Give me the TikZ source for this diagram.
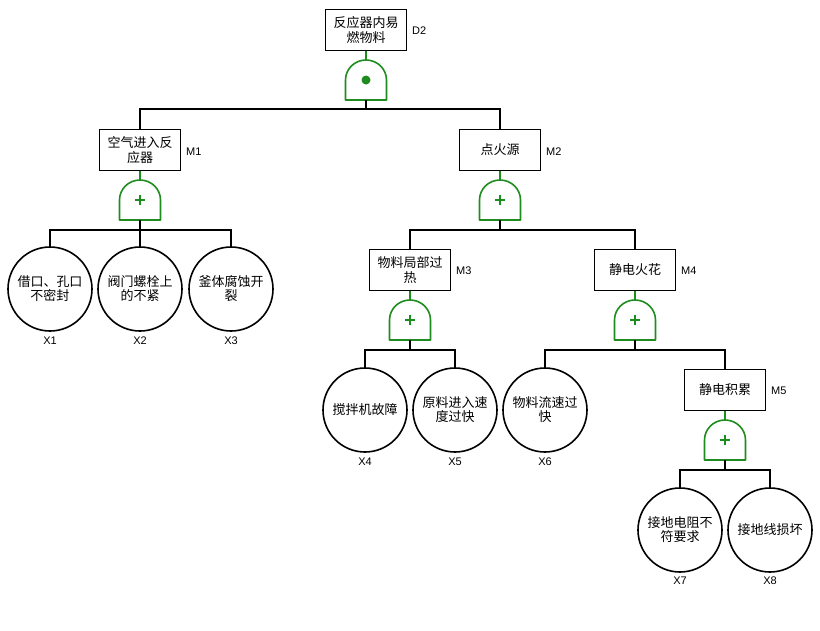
\documentclass[tikz,border=0pt]{standalone}
\usepackage{fontspec}
\setmainfont{Liberation Sans}
\newfontfamily\cjk{Noto Sans CJK SC}
\definecolor{gatecol}{RGB}{30,140,30}
\newcommand{\gateoutline}{%
  \draw[gatecol, line width=1.6pt, line join=round] (-20.5,40) -- (-20.5,20)
    arc[start angle=180, end angle=0, x radius=20.5pt, y radius=20pt] -- (20.5,40) -- cycle;
  \coordinate (-top) at (0,0);
  \coordinate (-bot) at (0,40);}
\tikzset{
  evt/.style={draw, line width=1.6pt, minimum width=81pt, minimum height=41pt,
    align=center, inner sep=1pt, font=\cjk\fontsize{13}{14.5}\selectfont},
  basic/.style={draw, circle, line width=1.6pt, minimum size=84pt, inner sep=0pt,
    align=center, font=\cjk\fontsize{13}{14}\selectfont},
  lbl/.style={font=\fontsize{11}{13}\selectfont, inner sep=0pt},
  conn/.style={draw, line width=1.6pt},
  gconn/.style={draw, gatecol, line width=1.6pt},
  andgate/.pic={\gateoutline \fill[gatecol] (0,20) circle[radius=4.5pt];},
  orgate/.pic={\gateoutline \draw[gatecol, line width=1.8pt] (-5,20) -- (5,20) (0,15) -- (0,25);}
}
\begin{document}
\begin{tikzpicture}[x=1pt, y=-1pt]
\useasboundingbox (0,0) rectangle (820,630);

% events
\node[evt] (d2) at (366,30) {反应器内易\\燃物料};
\node[evt] (m1) at (140,150) {空气进入反\\应器};
\node[evt] (m2) at (500,150) {点火源};
\node[evt] (m3) at (410,270) {物料局部过\\热};
\node[evt] (m4) at (635,270) {静电火花};
\node[evt] (m5) at (725,390) {静电积累};

\node[lbl, anchor=west] (d2l) at (412,31) {D2};
\node[lbl, anchor=west] (m1l) at (186,152) {M1};
\node[lbl, anchor=west] (m2l) at (546,152) {M2};
\node[lbl, anchor=west] (m3l) at (456,271) {M3};
\node[lbl, anchor=west] (m4l) at (681,271) {M4};
\node[lbl, anchor=west] (m5l) at (771,391) {M5};

% basic events
\node[basic] (x1) at (50,289) {借口、孔口\\不密封};
\node[basic] (x2) at (140,289) {阀门螺栓上\\的不紧};
\node[basic] (x3) at (231,289) {釜体腐蚀开\\裂};
\node[basic] (x4) at (365,410) {搅拌机故障};
\node[basic] (x5) at (455,410) {原料进入速\\度过快};
\node[basic] (x6) at (545,410) {物料流速过\\快};
\node[basic] (x7) at (680,530) {接地电阻不\\符要求};
\node[basic] (x8) at (770,530) {接地线损坏};

\node[lbl] (x1l) at (50,341) {X1};
\node[lbl] (x2l) at (140,341) {X2};
\node[lbl] (x3l) at (231,341) {X3};
\node[lbl] (x4l) at (365,462) {X4};
\node[lbl] (x5l) at (455,462) {X5};
\node[lbl] (x6l) at (545,462) {X6};
\node[lbl] (x7l) at (680,581) {X7};
\node[lbl] (x8l) at (770,581) {X8};

% gates
\pic (g0) at (366,60) {andgate};
\pic (g1) at (140,180) {orgate};
\pic (g2) at (500,180) {orgate};
\pic (g3) at (410,300) {orgate};
\pic (g4) at (635,300) {orgate};
\pic (g5) at (725,420) {orgate};

% junctions
\coordinate (j0) at (366,109);
\coordinate (j1) at (140,230);
\coordinate (j2) at (500,230);
\coordinate (j3) at (410,350);
\coordinate (j4) at (635,350);
\coordinate (j5) at (725,470);

% connectors
\path[gconn] (d2.south) -- (g0-top);
\path[gconn] (m1.south) -- (g1-top);
\path[gconn] (m2.south) -- (g2-top);
\path[gconn] (m3.south) -- (g3-top);
\path[gconn] (m4.south) -- (g4-top);
\path[gconn] (m5.south) -- (g5-top);

\path[conn] (g0-bot) -- (j0);
\path[conn] (m1.north) |- (j0) -| (m2.north);

\path[conn] (g1-bot) -- (j1);
\path[conn] (x1.north) |- (j1) -| (x3.north);
\path[conn] (x2.north) -- (j1);

\path[conn] (g2-bot) -- (j2);
\path[conn] (m3.north) |- (j2) -| (m4.north);

\path[conn] (g3-bot) -- (j3);
\path[conn] (x4.north) |- (j3) -| (x5.north);

\path[conn] (g4-bot) -- (j4);
\path[conn] (x6.north) |- (j4) -| (m5.north);

\path[conn] (g5-bot) -- (j5);
\path[conn] (x7.north) |- (j5) -| (x8.north);
\end{tikzpicture}
\end{document}
